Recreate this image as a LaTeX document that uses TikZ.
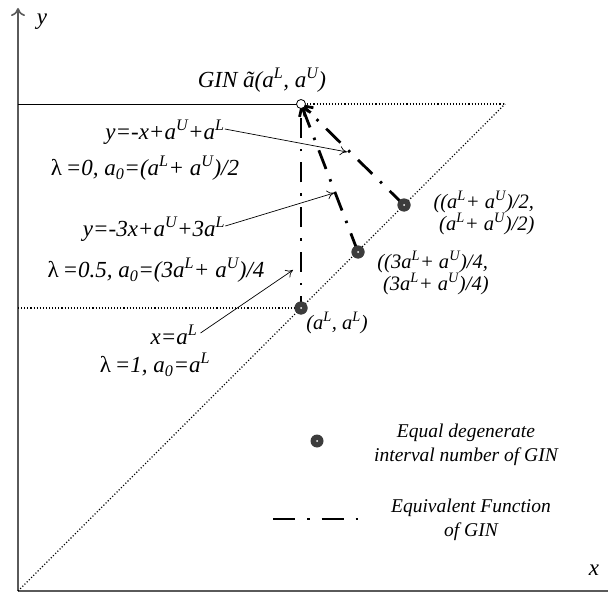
\documentclass[tikz,border=0pt]{standalone}
\usepackage{fontspec}
\setmainfont{Liberation Serif}
\usetikzlibrary{arrows.meta}
\definecolor{axisgray}{HTML}{5A5A5A}
\definecolor{ptgray}{HTML}{3C3C3C}
\begin{document}
\begin{tikzpicture}[x=1pt,y=-1pt,
  axis/.style={draw=axisgray,line width=1.6pt},
  guide/.style={draw=black,line width=1.1pt,dash pattern=on 1.1pt off 2pt},
  equiv/.style={draw=black,line width=2.8pt,dash pattern=on 20pt off 11pt on 2.5pt off 11pt},
  note/.style={draw=black,line width=0.7pt,-{To[length=7pt,width=9pt]}},
  lbl/.style={font=\fontsize{23}{25}\selectfont\itshape,inner sep=0pt},
  small/.style={font=\fontsize{20.5}{21}\selectfont\itshape,inner sep=0pt,align=center},
  legend/.style={font=\fontsize{19.5}{24}\selectfont\itshape,inner sep=0pt,align=center},
  degpt/.style={circle,fill=ptgray,minimum size=13pt,inner sep=0pt,
     path picture={\fill[white] (path picture bounding box.center) circle (1pt);}},
]
\useasboundingbox (0,0) rectangle (608,599);
% axes
\coordinate (O) at (18,591);
\coordinate (ytop) at (18,8);
\coordinate (xend) at (608,591);
\draw[axis,-{To[length=8pt,width=14pt]}] (O) -- (ytop);
\draw[axis] (O) -- (xend);
\node[lbl] (ylab) at (42,22) {y};
\node[lbl] (xlab) at (594,570) {x};
% points
\coordinate (P) at (301,104);
\coordinate (Q) at (505,104);
\coordinate (yU) at (18,104);
\coordinate (yL) at (18,308);
\node[degpt] (D1) at (301,308) {};
\node[degpt] (D2) at (358,252) {};
\node[degpt] (D3) at (404,205) {};
% guide lines
\draw[black,line width=0.8pt] (yU) -- (P);
\draw[guide] (P) -- (Q);
\draw[guide] (O) -- (Q);
\draw[guide] (yL) -- (D1);
% equivalent functions
\draw[equiv,dash phase=8pt] (D1.center) -- (P);
\draw[equiv,-{Straight Barb[length=9pt,width=12pt]}] (D2.center) -- (P);
\draw[equiv,-{Straight Barb[length=9pt,width=12pt]}] (D3.center) -- (P);
\node[degpt] at (D1) {};
\node[degpt] at (D2) {};
\node[degpt] at (D3) {};
\node[circle,draw=black,fill=white,line width=0.8pt,minimum size=9pt,inner sep=0pt] (Pc) at (P) {};
% labels
\node[lbl] (gin) at (262,80) {GIN ã(a\textsuperscript{L}, a\textsuperscript{U})};
\node[lbl] (eq1) at (165,132) {y=-x+a\textsuperscript{U}+a\textsuperscript{L}};
\node[lbl] (lam1) at (145,168) {{\upshape λ}\,=0, a\textsubscript{0}=(a\textsuperscript{L}+ a\textsuperscript{U})/2};
\node[lbl] (eq2) at (154,229) {y=-3x+a\textsuperscript{U}+3a\textsuperscript{L}};
\node[lbl] (lam2) at (156,270) {{\upshape λ}\,=0.5, a\textsubscript{0}=(3a\textsuperscript{L}+ a\textsuperscript{U})/4};
\node[lbl] (eq3) at (174,335) {x=a\textsuperscript{L}};
\node[lbl] (lam3) at (155,365) {{\upshape λ}\,=1, a\textsubscript{0}=a\textsuperscript{L}};
\node[small,align=left] (l3) at (484,213) {((a\textsuperscript{L}+ a\textsuperscript{U})/2,\\\;(a\textsuperscript{L}+ a\textsuperscript{U})/2)};
\node[small,align=left] (l2) at (433,273) {((3a\textsuperscript{L}+ a\textsuperscript{U})/4,\\\;(3a\textsuperscript{L}+ a\textsuperscript{U})/4)};
\node[small] (l1) at (337,323) {(a\textsuperscript{L}, a\textsuperscript{L})};
% annotation arrows
\coordinate (t1) at (347,152);
\coordinate (t2) at (334,193);
\coordinate (t3) at (293,270);
\draw[note] (eq1.east) ++(0,-3) -- (t1);
\draw[note] (eq2.east) ++(0,-3) -- (t2);
\draw[note] (eq3.east) ++(3,-2) -- (t3);
% legend
\node[degpt] (legpt) at (317,441) {};
\node[legend] (legtxt) at (466,445) {Equal degenerate\\interval number of GIN};
\coordinate (lega) at (273,519);
\coordinate (legb) at (358,519);
\draw[equiv,line width=2.6pt,dash pattern=on 22pt off 12pt on 2.5pt off 12pt] (lega) -- (legb);
\node[legend] (legtxt2) at (471,520) {Equivalent Function\\of GIN};
\end{tikzpicture}
\end{document}
